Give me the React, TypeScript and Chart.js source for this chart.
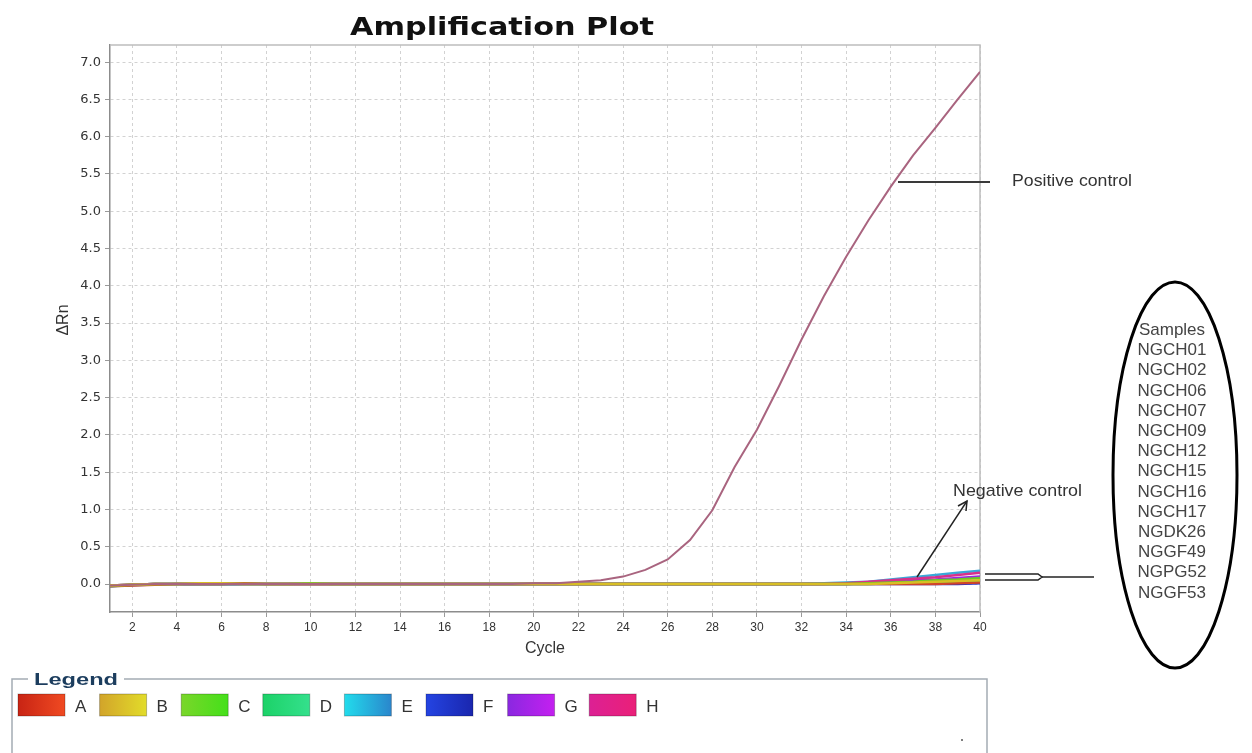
import React, { useEffect, useRef } from "react";
import { Chart, registerables } from "chart.js";

Chart.register(...registerables);

// ---------- data ----------
const cycles = [1, 2, 3, 4, 5, 6, 7, 8, 9, 10, 11, 12, 13, 14, 15, 16, 17, 18, 19, 20, 21, 22, 23, 24, 25, 26, 27, 28, 29, 30, 31, 32, 33, 34, 35, 36, 37, 38, 39, 40];
const xTickValues = [2, 4, 6, 8, 10, 12, 14, 16, 18, 20, 22, 24, 26, 28, 30, 32, 34, 36, 38, 40];
const yTickValues = [0, 0.5, 1, 1.5, 2, 2.5, 3, 3.5, 4, 4.5, 5, 5.5, 6, 6.5, 7];

const positiveControl = [-0.02, -0.01, 0, 0, 0, 0, 0, 0, 0, 0, 0, 0, 0, 0, 0, 0, 0, 0, 0, 0.01, 0.01, 0.03, 0.05, 0.1, 0.19, 0.33, 0.59, 0.99, 1.57, 2.07, 2.66, 3.28, 3.86, 4.39, 4.88, 5.33, 5.75, 6.12, 6.5, 6.87];
const rowA = [-0.03, -0.02, -0.01, 0, 0, 0, 0.01, 0, 0, 0, 0, 0, 0, 0, 0, 0, 0, 0, 0, 0, 0, 0, 0, 0, 0, 0, 0, 0, 0, 0, 0, 0, 0, 0, 0, 0, 0, 0, 0.01, 0.02];
const rowB = [-0.02, -0.01, 0, 0, 0.01, 0.01, 0, 0, 0, 0, 0, 0, 0, 0, 0, 0, 0, 0, 0, 0, 0, 0, 0, 0, 0, 0, 0, 0, 0, 0, 0, 0, 0, 0, 0, 0.01, 0.02, 0.03, 0.04, 0.05];
const rowC = [-0.02, -0.01, 0, 0, 0, 0, 0, 0, 0, 0.01, 0, 0, 0, 0, 0, 0, 0, 0, 0, 0, 0, 0, 0, 0, 0, 0, 0, 0, 0, 0, 0, 0, 0, 0, 0.01, 0.02, 0.03, 0.05, 0.06, 0.08];
const rowD = [-0.03, -0.01, 0, 0, 0, 0, 0, 0, 0, 0, 0, 0, 0, 0, 0, 0, 0, 0, 0, 0, 0, 0, 0, 0, 0, 0, 0, 0, 0, 0, 0, 0, 0, 0, 0, 0.01, 0.01, 0.02, 0.03, 0.04];
const rowE = [-0.03, -0.015, -0.005, 0, 0, 0, 0, 0, 0, 0, 0, 0, 0, 0, 0, 0, 0, 0, 0, 0, 0, 0, 0, 0, 0, 0, 0, 0, 0, 0, 0, 0, 0.01, 0.02, 0.03, 0.06, 0.09, 0.12, 0.15, 0.18];
const rowF = [-0.02, -0.01, 0, 0, 0, 0, 0, 0, 0, 0, 0, 0, 0, 0, 0, 0, 0, 0, 0, 0, 0, 0, 0, 0, 0, 0, 0, 0, 0, 0, 0, 0, 0, 0, 0, 0, 0, 0, 0, 0.01];
const rowG = [-0.02, -0.01, 0, 0, 0, 0, 0, 0, 0, 0, 0, 0, 0, 0, 0, 0, 0, 0, 0, 0, 0, 0, 0, 0, 0, 0, 0, 0, 0, 0, 0, 0, 0, 0, 0.01, 0.03, 0.05, 0.06, 0.08, 0.1];
const rowH = [-0.02, -0.01, 0, 0, 0, 0, 0, 0, 0, 0, 0, 0, 0, 0, 0, 0, 0, 0, 0, 0, 0, 0, 0, 0, 0, 0, 0, 0, 0, 0, 0, 0, 0, 0.01, 0.03, 0.05, 0.07, 0.09, 0.12, 0.15];

const legendLabels = ["A", "B", "C", "D", "E", "F", "G", "H"];
const legendColors = ["#d0442a", "#d8be24", "#6cc828", "#22d474", "#3aa8d8", "#2232cc", "#9e24e4", "#d8308a"];
const legendGradients = [
  ["#c82414", "#f04a22"],
  ["#d2a42a", "#e2dc2a"],
  ["#7ad62a", "#44e01a"],
  ["#1cd268", "#34e08c"],
  ["#22dcec", "#2a86cc"],
  ["#2444e2", "#1a26ae"],
  ["#8a28e0", "#c420f0"],
  ["#dc2094", "#ea2078"],
];
const sampleNames = ["Samples", "NGCH01", "NGCH02", "NGCH06", "NGCH07", "NGCH09", "NGCH12", "NGCH15", "NGCH16", "NGCH17", "NGDK26", "NGGF49", "NGPG52", "NGGF53"];

const FONT = '"Liberation Sans", Arial, sans-serif';

const framePlugin = {
  id: "frame",
  beforeDatasetsDraw(chart: any) {
    const { ctx, chartArea } = chart;
    ctx.save();
    ctx.strokeStyle = "#bdbdbd";
    ctx.lineWidth = 1.5;
    ctx.beginPath();
    ctx.moveTo(chartArea.left, chartArea.top);
    ctx.lineTo(chartArea.right, chartArea.top);
    ctx.lineTo(chartArea.right, chartArea.bottom);
    ctx.stroke();
    ctx.restore();
  },
};

export default function App() {
  const canvasRef = useRef<HTMLCanvasElement | null>(null);

  useEffect(() => {
    const canvas = canvasRef.current;
    if (!canvas) return;
    const rows = [rowA, rowB, rowC, rowD, rowE, rowF, rowG, rowH];
    const rowDatasets = rows.map((r, i) => ({
      label: legendLabels[i],
      data: cycles.map((c, j) => ({ x: c, y: r[j] })),
      borderColor: legendColors[i],
      borderWidth: 2.5,
      pointRadius: 0,
      tension: 0,
      fill: false,
    }));
    const chart = new Chart(canvas, {
      type: "line",
      data: {
        datasets: [
          {
            label: "Positive control",
            data: cycles.map((c, j) => ({ x: c, y: positiveControl[j] })),
            borderColor: "#a9647f",
            borderWidth: 2,
            pointRadius: 0,
            tension: 0,
            fill: false,
          },
          rowDatasets[1],
          rowDatasets[2],
          rowDatasets[0],
          rowDatasets[7],
          rowDatasets[4],
          rowDatasets[6],
          rowDatasets[3],
          rowDatasets[5],
        ],
      },
      options: {
        responsive: false,
        animation: false,
        devicePixelRatio: 1,
        layout: { padding: { top: 45, right: 272, left: 0, bottom: 0 } },
        plugins: {
          legend: { display: false },
          title: { display: false },
          tooltip: { enabled: false },
        },
        scales: {
          x: {
            type: "linear",
            min: 1,
            max: 40,
            afterFit: (s: any) => {
              s.height = 141;
            },
            afterBuildTicks: (s: any) => {
              s.ticks = xTickValues.map((v) => ({ value: v }));
            },
            grid: { color: "#d2d2d2", lineWidth: 1, tickLength: 5, tickColor: "#9a9a9a", borderDash: [3, 3] } as any,
            border: { display: true, color: "#8c8c8c", width: 1.5, dash: [3, 3] },
            ticks: {
              autoSkip: false,
              maxRotation: 0,
              padding: 3,
              color: "#333",
              font: { family: FONT, size: 12 },
              callback: (v: any) => String(v),
            },
          },
          y: {
            type: "linear",
            min: -0.375,
            max: 7.23,
            afterFit: (s: any) => {
              s.width = 110;
            },
            afterBuildTicks: (s: any) => {
              s.ticks = yTickValues.map((v) => ({ value: v }));
            },
            grid: { color: "#d2d2d2", lineWidth: 1, tickLength: 5, tickColor: "#9a9a9a", borderDash: [3, 3] } as any,
            border: { display: true, color: "#8c8c8c", width: 1.5, dash: [3, 3] },
            ticks: {
              padding: 4,
              color: "#333",
              font: { family: '"DejaVu Sans", sans-serif', size: 13 },
              callback: (v: any) => Number(v).toFixed(1),
            },
          },
        },
      },
      plugins: [framePlugin],
    } as any);
    return () => chart.destroy();
  }, []);

  const legendX0 = 18;
  const legendStep = 81.6;

  return (
    <div style={{ position: "absolute", left: 0, top: 0, width: 1252, height: 753, background: "#fff", overflow: "hidden" }}>
      <canvas ref={canvasRef} width={1252} height={753} style={{ position: "absolute", left: 0, top: 0, width: 1252, height: 753, display: "block" }} />
      <svg width={1252} height={753} style={{ position: "absolute", left: 0, top: 0, pointerEvents: "none" }}>
        <defs>
          {legendGradients.map((g, i) => (
            <linearGradient key={i} id={"lg" + i} x1="0" y1="0" x2="1" y2="0">
              <stop offset="0" stopColor={g[0]} />
              <stop offset="1" stopColor={g[1]} />
            </linearGradient>
          ))}
        </defs>
        {/* title */}
        <text x={502} y={35} textAnchor="middle" fontFamily='"DejaVu Sans", sans-serif' fontWeight="bold" fontSize={25} fill="#111" textLength={304} lengthAdjust="spacingAndGlyphs">
          Amplification Plot
        </text>
        {/* axis titles */}
        <text transform="translate(68,320) rotate(-90)" textAnchor="middle" fontFamily={FONT} fontSize={16} fill="#333">
          ΔRn
        </text>
        <text x={545} y={653} textAnchor="middle" fontFamily={FONT} fontSize={16} fill="#333">
          Cycle
        </text>
        {/* positive control annotation */}
        <line x1={898} y1={182} x2={990} y2={182} stroke="#3a3a3a" strokeWidth={2} />
        <text x={1012} y={186} fontFamily={FONT} fontSize={17} fill="#333" textLength={120} lengthAdjust="spacingAndGlyphs">
          Positive control
        </text>
        {/* negative control annotation */}
        <line x1={917} y1={577} x2={967} y2={501} stroke="#222" strokeWidth={1.5} />
        <polyline points="958,506 967,501 966,511" fill="none" stroke="#222" strokeWidth={1.5} />
        <text x={953} y={496} fontFamily={FONT} fontSize={17} fill="#333" textLength={129} lengthAdjust="spacingAndGlyphs">
          Negative control
        </text>
        {/* hollow pointer */}
        <path d="M985,574 L1038,574 L1042,577 L1038,580 L985,580" fill="none" stroke="#222" strokeWidth={1.5} />
        <line x1={1042} y1={577} x2={1094} y2={577} stroke="#222" strokeWidth={1.5} />
        {/* samples ellipse */}
        <ellipse cx={1175} cy={475} rx={62} ry={193} fill="none" stroke="#000" strokeWidth={3} />
        {sampleNames.map((s, i) => (
          <text key={s} x={1172} y={335 + i * 20.2} textAnchor="middle" fontFamily={FONT} fontSize={17} fill="#444">
            {s}
          </text>
        ))}
        {/* legend box */}
        <path d="M12,753 L12,679 L28,679 M124,679 L987,679 L987,753" fill="none" stroke="#a4acb4" strokeWidth={1.5} />
        <text x={34} y={685} fontFamily={FONT} fontWeight="bold" fontSize={17} fill="#1c3d5e" textLength={84} lengthAdjust="spacingAndGlyphs">
          Legend
        </text>
        {legendLabels.map((l, i) => {
          const x = legendX0 + i * legendStep;
          return (
            <g key={l}>
              <rect x={x} y={694} width={47} height={22} fill={"url(#lg" + i + ")"} stroke="rgba(0,0,0,0.25)" strokeWidth={1} />
              <text x={x + 57} y={712} fontFamily={FONT} fontSize={17} fill="#333">
                {l}
              </text>
            </g>
          );
        })}
        <circle cx={962} cy={740} r={1} fill="#555" />
      </svg>
    </div>
  );
}
